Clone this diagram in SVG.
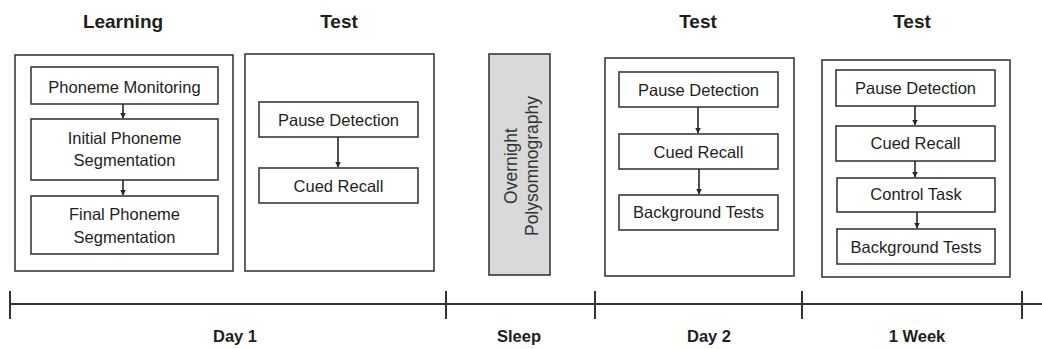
<svg xmlns="http://www.w3.org/2000/svg" width="1042" height="349" viewBox="0 0 1042 349">
<style>
.bg{fill:#fff}
.outer{fill:#fff;stroke:#3a3a3a;stroke-width:1.6}
.box{fill:#fff;stroke:#3a3a3a;stroke-width:1.6}
.sleep{fill:#d9d9d9;stroke:#3a3a3a;stroke-width:1.6}
.t{font-family:"Liberation Sans",Arial,sans-serif;font-size:16.5px;fill:#1e1e1e;text-anchor:middle}
.r{font-family:"Liberation Sans",Arial,sans-serif;font-size:17.5px;fill:#333;text-anchor:middle}
.h{font-family:"Liberation Sans",Arial,sans-serif;font-size:19px;font-weight:bold;fill:#1e1e1e;text-anchor:middle}
.b{font-family:"Liberation Sans",Arial,sans-serif;font-size:16.5px;font-weight:bold;fill:#1e1e1e;text-anchor:middle}
.ln{stroke:#262626;stroke-width:1.6;fill:none}
.tl{stroke:#333;stroke-width:2;fill:none}
</style>
<defs>
<marker id="ah" markerWidth="6" markerHeight="6" refX="5.5" refY="3" orient="auto" markerUnits="userSpaceOnUse">
<path d="M0,0 L6,3 L0,6 Z" fill="#262626"/>
</marker>
</defs>
<rect class="bg" x="0" y="0" width="1042" height="349"/>

<g id="headers">
<text class="h" x="123" y="28">Learning</text>
<text class="h" x="339" y="28">Test</text>
<text class="h" x="698" y="28">Test</text>
<text class="h" x="912" y="28">Test</text>
</g>

<g id="learning">
<rect class="outer" x="15" y="55" width="218" height="216"/>
<g id="phoneme-monitoring">
<rect class="box" x="31" y="67" width="187" height="37"/>
<text class="t" x="124.5" y="93">Phoneme Monitoring</text>
</g>
<g id="initial-phoneme">
<rect class="box" x="31" y="119" width="187" height="61"/>
<text class="t" x="124.5" y="144">Initial Phoneme</text>
<text class="t" x="124.5" y="166">Segmentation</text>
</g>
<g id="final-phoneme">
<rect class="box" x="31" y="196" width="187" height="58"/>
<text class="t" x="124.5" y="220">Final Phoneme</text>
<text class="t" x="124.5" y="243">Segmentation</text>
</g>
</g>

<g id="test1">
<rect class="outer" x="245" y="54" width="189" height="217"/>
<g id="t1-pause">
<rect class="box" x="259" y="102" width="159" height="35"/>
<text class="t" x="338.5" y="126">Pause Detection</text>
</g>
<g id="t1-cued">
<rect class="box" x="259" y="168" width="159" height="35"/>
<text class="t" x="338.5" y="192">Cued Recall</text>
</g>
</g>

<g id="sleep-box">
<rect class="sleep" x="489" y="54" width="61" height="221"/>
<text class="r" transform="translate(517,166) rotate(-90)">Overnight</text>
<text class="r" transform="translate(538,166) rotate(-90)">Polysomnography</text>
</g>

<g id="test2">
<rect class="outer" x="605" y="58" width="189" height="218"/>
<g id="t2-pause">
<rect class="box" x="619" y="72" width="159" height="35"/>
<text class="t" x="698.5" y="96">Pause Detection</text>
</g>
<g id="t2-cued">
<rect class="box" x="619" y="134" width="159" height="35"/>
<text class="t" x="698.5" y="158">Cued Recall</text>
</g>
<g id="t2-background">
<rect class="box" x="619" y="195" width="159" height="35"/>
<text class="t" x="698.5" y="218">Background Tests</text>
</g>
</g>

<g id="test3">
<rect class="outer" x="822" y="60" width="188" height="217"/>
<g id="t3-pause">
<rect class="box" x="836" y="70" width="159" height="36"/>
<text class="t" x="915.5" y="94">Pause Detection</text>
</g>
<g id="t3-cued">
<rect class="box" x="836" y="126" width="159" height="35"/>
<text class="t" x="915.5" y="149">Cued Recall</text>
</g>
<g id="t3-control">
<rect class="box" x="837" y="178" width="158" height="34"/>
<text class="t" x="916" y="200">Control Task</text>
</g>
<g id="t3-background">
<rect class="box" x="837" y="229" width="158" height="35"/>
<text class="t" x="916" y="253">Background Tests</text>
</g>
</g>

<g id="connectors">
<line class="ln" x1="123" y1="104" x2="123" y2="118" marker-end="url(#ah)"/>
<line class="ln" x1="123" y1="180" x2="123" y2="195" marker-end="url(#ah)"/>
<line class="ln" x1="338" y1="137" x2="338" y2="167" marker-end="url(#ah)"/>
<line class="ln" x1="698" y1="107" x2="698" y2="133" marker-end="url(#ah)"/>
<line class="ln" x1="699" y1="169" x2="699" y2="194" marker-end="url(#ah)"/>
<line class="ln" x1="915" y1="106" x2="915" y2="125" marker-end="url(#ah)"/>
<line class="ln" x1="915" y1="161" x2="915" y2="177" marker-end="url(#ah)"/>
<line class="ln" x1="917" y1="212" x2="917" y2="228" marker-end="url(#ah)"/>
</g>

<g id="timeline">
<line class="tl" x1="10" y1="304" x2="1042" y2="304"/>
<line class="tl" x1="10" y1="291" x2="10" y2="319"/>
<line class="tl" x1="446" y1="291" x2="446" y2="319"/>
<line class="tl" x1="595" y1="291" x2="595" y2="319"/>
<line class="tl" x1="802" y1="291" x2="802" y2="319"/>
<line class="tl" x1="1022" y1="291" x2="1022" y2="319"/>
<text class="b" x="235" y="342">Day 1</text>
<text class="b" x="519" y="342">Sleep</text>
<text class="b" x="709" y="342">Day 2</text>
<text class="b" x="917" y="342">1 Week</text>
</g>
</svg>
